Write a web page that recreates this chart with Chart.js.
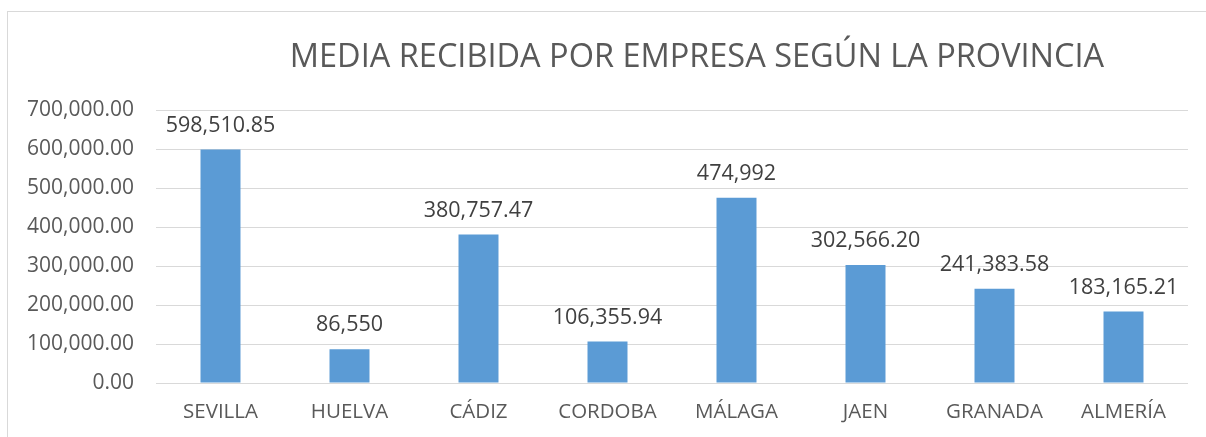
<!DOCTYPE html>
<html>
<head>
<meta charset="utf-8">
<script src="https://cdn.jsdelivr.net/npm/chart.js@4.4.0/dist/chart.umd.min.js"></script>
<style>
  html, body { margin: 0; padding: 0; background: #fff; overflow: hidden; }
  #frame { position: absolute; left: 7px; top: 11px; width: 1260px; height: 500px; border: 1px solid #d9d9d9; box-sizing: border-box; }
  #wrap { position: absolute; left: 0; top: 0; width: 1206px; height: 437px; }
</style>
</head>
<body>
<div id="frame"></div>
<div id="wrap"><canvas id="c" width="1206" height="437"></canvas></div>
<script>
const TITLE = "MEDIA RECIBIDA POR EMPRESA SEGÚN LA PROVINCIA";
const categories = ["SEVILLA", "HUELVA", "CÁDIZ", "CORDOBA", "MÁLAGA", "JAEN", "GRANADA", "ALMERÍA"];
const values = [598510.85, 86550, 380757.47, 106355.94, 474992, 302566.20, 241383.58, 183165.21];
const valueLabels = ["598,510.85", "86,550", "380,757.47", "106,355.94", "474,992", "302,566.20", "241,383.58", "183,165.21"];
const yMin = 0, yMax = 700000, yStep = 100000;

const FONT = "'Open Sans', 'Noto Sans', sans-serif";

const titlePlugin = {
  id: 'customTitle',
  afterDraw(chart) {
    const ctx = chart.ctx;
    ctx.save();
    ctx.font = "32.5px " + FONT;
    ctx.fillStyle = "#595959";
    ctx.textAlign = "center";
    ctx.textBaseline = "middle";
    ctx.fillText(TITLE, 697, 58);
    ctx.restore();
  }
};

const labelPlugin = {
  id: 'barLabels',
  afterDatasetsDraw(chart) {
    const ctx = chart.ctx;
    const meta = chart.getDatasetMeta(0);
    ctx.save();
    ctx.font = "21.5px " + FONT;
    ctx.fillStyle = "#404040";
    ctx.textAlign = "center";
    ctx.textBaseline = "middle";
    meta.data.forEach((bar, i) => {
      ctx.fillText(valueLabels[i], bar.x, bar.y - 24);
    });
    ctx.restore();
  }
};

new Chart(document.getElementById('c'), {
  type: 'bar',
  data: {
    labels: categories,
    datasets: [{
      data: values,
      backgroundColor: '#5B9BD5',
      borderWidth: 0,
      categoryPercentage: 1,
      barPercentage: 0.31
    }]
  },
  options: {
    responsive: false,
    animation: false,
    layout: { padding: { left: 0, right: 18, top: 110, bottom: 0 } },
    plugins: { legend: { display: false }, title: { display: false }, tooltip: { enabled: false } },
    scales: {
      x: {
        grid: { display: false, drawTicks: false },
        border: { display: false },
        ticks: { color: '#595959', font: { family: FONT, size: 20.5 }, padding: 17 },
        afterFit(s) { s.height = 54; }
      },
      y: {
        min: yMin, max: yMax,
        grid: { color: '#d9d9d9', lineWidth: 1, drawTicks: false },
        border: { display: false },
        ticks: {
          stepSize: yStep,
          color: '#595959',
          font: { family: FONT, size: 21 },
          padding: 22,
          callback: v => v.toLocaleString('en-US', { minimumFractionDigits: 2, maximumFractionDigits: 2 })
        },
        afterFit(s) { s.width = 156; }
      }
    }
  },
  plugins: [titlePlugin, labelPlugin]
});
</script>
</body>
</html>
